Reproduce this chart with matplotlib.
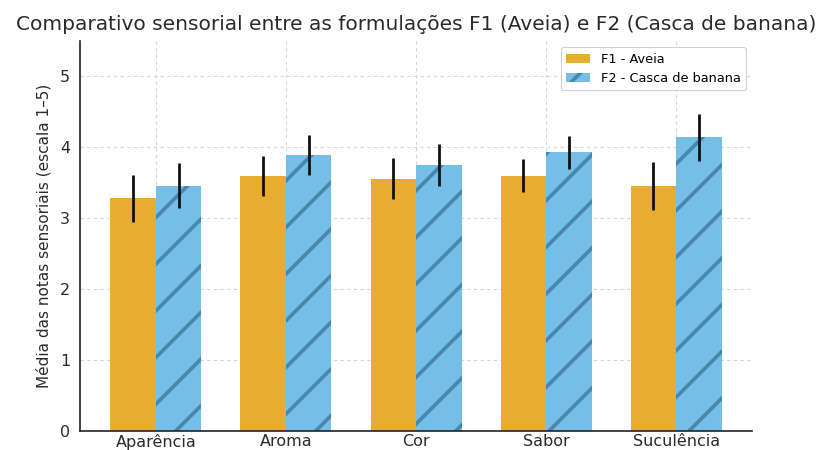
import matplotlib
matplotlib.use("Agg")
import matplotlib.pyplot as plt
import numpy as np

# render at higher dpi so the hatch comes out sparser, scale sizes down
DPI = 140
k = 100 / DPI

plt.rcParams["font.family"] = ["DejaVu Sans"]
plt.rcParams["hatch.linewidth"] = 2.6 * k
plt.rcParams["hatch.color"] = "#4a86aa"

categorias = ["Aparência", "Aroma", "Cor", "Sabor", "Suculência"]
f1_media = [3.28, 3.60, 3.56, 3.60, 3.46]
f1_erro = [0.33, 0.28, 0.29, 0.23, 0.34]
f2_media = [3.46, 3.89, 3.75, 3.93, 4.14]
f2_erro = [0.32, 0.28, 0.30, 0.23, 0.33]

x = np.arange(len(categorias))
largura = 0.35

fig = plt.figure(figsize=(823 / DPI, 450 / DPI), dpi=DPI)
ax = fig.add_axes([0.097, 0.042, 0.817, 0.867])

ax.bar(x - largura / 2, f1_media, largura, yerr=f1_erro,
       color="#e8ad30", label="F1 - Aveia",
       error_kw=dict(ecolor="#111111", elinewidth=2 * k, capsize=0), zorder=2)
ax.bar(x + largura / 2, f2_media, largura, yerr=f2_erro,
       color="#74bee8", edgecolor="#4a86aa", linewidth=0, hatch="/",
       label="F2 - Casca de banana",
       error_kw=dict(ecolor="#111111", elinewidth=2 * k, capsize=0), zorder=2)

ax.set_xticks(x)
ax.set_xticklabels(categorias, fontsize=11.5 * k, color="#2a2a2a")
ax.set_ylim(0, 5.5)
ax.set_yticks(range(0, 6))
ax.tick_params(axis="y", labelsize=11.5 * k, colors="#2a2a2a", length=0, pad=7 * k)
ax.tick_params(axis="x", length=0, pad=2 * k)
ax.set_ylabel("Média das notas sensoriais (escala 1–5)", fontsize=11 * k,
              color="#2a2a2a", labelpad=6 * k)
ax.set_title("Comparativo sensorial entre as formulações F1 (Aveia) e F2 (Casca de banana)",
             fontsize=14.5 * k, color="#2a2a2a", pad=8 * k)

ax.grid(True, linestyle=(0, (3, 3)), color="#d4d4d4", linewidth=0.8 * k, zorder=0)
ax.set_axisbelow(True)
for s in ["top", "right"]:
    ax.spines[s].set_visible(False)
for s in ["left", "bottom"]:
    ax.spines[s].set_color("#222222")
    ax.spines[s].set_linewidth(1.2 * k)

leg = ax.legend(loc="upper right", fontsize=9.3 * k, framealpha=1,
                edgecolor="#d0d0d0", borderaxespad=0.5, handlelength=1.9)
leg.get_frame().set_linewidth(0.8 * k)

fig.savefig("out.png", dpi=DPI)
